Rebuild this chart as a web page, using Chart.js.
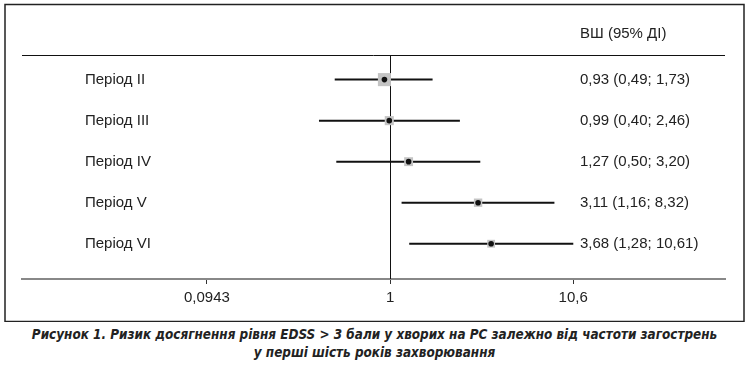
<!DOCTYPE html>
<html>
<head>
<meta charset="utf-8">
<script src="https://cdn.jsdelivr.net/npm/chart.js@4.4.1/dist/chart.umd.min.js"></script>
<style>
  body { margin: 0; background: #fff; }
  #wrap { position: relative; width: 749px; height: 322px; }
  #caption {
    width: 749px; text-align: center; color: #222;
    font-family: "Liberation Sans Narrow", "DejaVu Sans Condensed", sans-serif;
    font-weight: bold; font-style: italic; font-size: 13.4px; line-height: 18px;
    margin-top: 4px;
  }
</style>
</head>
<body>
<div id="wrap"><canvas id="chart1" width="749" height="322"></canvas></div>
<div id="caption">Рисунок 1. Ризик досягнення рівня EDSS &gt; 3 бали у хворих на РС залежно від частоти загострень<br>у перші шість років захворювання</div>
<script>
// дані
var periods = ['Період II', 'Період III', 'Період IV', 'Період V', 'Період VI'];
var orValues = [0.93, 0.99, 1.27, 3.11, 3.68];
var lower = [0.49, 0.40, 0.50, 1.16, 1.28];
var upper = [1.73, 2.46, 3.20, 8.32, 10.61];
var ciText = ['0,93 (0,49; 1,73)', '0,99 (0,40; 2,46)', '1,27 (0,50; 3,20)', '3,11 (1,16; 8,32)', '3,68 (1,28; 10,61)'];
var tickVals = [0.0943, 1, 10.6];

var FONT = '"Liberation Sans", Arial, sans-serif';

// рядки 1..5
var rows = periods.map(function (p, i) { return i + 1; });

// лінії довірчих інтервалів - по одному набору на рядок
var ciSets = periods.map(function (p, i) {
  return {
    type: 'line',
    data: [{ x: lower[i], y: rows[i] }, { x: upper[i], y: rows[i] }],
    borderColor: '#111',
    borderWidth: 2,
    pointRadius: 0,
    order: 3
  };
});

// розмір квадрата за шириною інтервалу (вага)
var boxRadius = periods.map(function (p, i) {
  var side = 16.5 / Math.log(upper[i] / lower[i]);
  return side / Math.SQRT2;
});

var boxSet = {
  type: 'scatter',
  data: periods.map(function (p, i) { return { x: orValues[i], y: rows[i] }; }),
  pointStyle: 'rect',
  pointRadius: boxRadius,
  backgroundColor: '#c4c4c4',
  borderWidth: 0,
  order: 2
};

var dotSet = {
  type: 'scatter',
  data: periods.map(function (p, i) { return { x: orValues[i], y: rows[i] }; }),
  pointRadius: 2.8,
  backgroundColor: '#111',
  borderWidth: 0,
  order: 1
};

var forestPlugin = {
  id: 'forest',
  beforeDatasetsDraw: function (chart) {
    var ctx = chart.ctx, a = chart.chartArea;
    var xs = chart.scales.x;
    ctx.save();
    // верхня лінія
    ctx.strokeStyle = '#111';
    ctx.lineWidth = 1;
    ctx.beginPath();
    ctx.moveTo(a.left, a.top + 0.5);
    ctx.lineTo(a.right, a.top + 0.5);
    ctx.stroke();
    // лінія ВШ = 1
    var x1 = Math.round(xs.getPixelForValue(1)) + 0.5;
    ctx.beginPath();
    ctx.moveTo(x1, a.top);
    ctx.lineTo(x1, a.bottom);
    ctx.stroke();
    ctx.restore();
  },
  afterDraw: function (chart) {
    var ctx = chart.ctx;
    var ys = chart.scales.y;
    ctx.save();
    // рамка
    ctx.strokeStyle = '#222';
    ctx.lineWidth = 1.5;
    ctx.strokeRect(5, 4.5, 739, 317);
    ctx.fillStyle = '#222';
    ctx.font = '15px ' + FONT;
    ctx.textBaseline = 'middle';
    ctx.textAlign = 'left';
    ctx.fillText('ВШ (95% ДІ)', 580, 34);
    periods.forEach(function (p, i) {
      var y = ys.getPixelForValue(rows[i]);
      ctx.fillText(p, 85, y);
      ctx.fillText(ciText[i], 580, y);
    });
    ctx.restore();
  }
};

var config = {
  data: { datasets: ciSets.concat([boxSet, dotSet]) },
  options: {
    responsive: false,
    animation: false,
    layout: { padding: { top: 55, left: 22, right: 24, bottom: 0 } },
    plugins: { legend: { display: false }, tooltip: { enabled: false } },
    scales: {
      x: {
        type: 'logarithmic',
        min: 0.0087,
        max: 75,
        afterBuildTicks: function (scale) {
          scale.ticks = tickVals.map(function (v) { return { value: v }; });
        },
        afterFit: function (scale) { scale.height = 43; },
        ticks: {
          autoSkip: false,
          maxRotation: 0,
          padding: 5,
          color: '#222',
          font: { family: FONT, size: 15 },
          callback: function (v) { return String(v).replace('.', ','); }
        },
        grid: { drawOnChartArea: false, tickLength: 5, color: '#333', lineWidth: 1 },
        border: { color: '#888', width: 2 }
      },
      y: {
        type: 'linear',
        reverse: true,
        min: 0.40,
        max: 5.86,
        display: false
      }
    }
  },
  plugins: [forestPlugin]
};

var myChart = new Chart(document.getElementById('chart1'), config);
</script>
</body>
</html>
